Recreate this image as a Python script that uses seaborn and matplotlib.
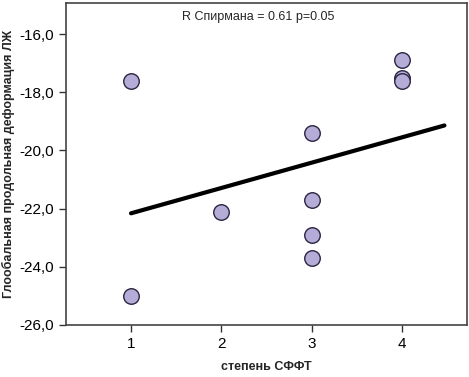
import matplotlib
matplotlib.use("Agg")
import matplotlib.pyplot as plt
import matplotlib.ticker as mticker
import seaborn as sns
import pandas as pd

# data
degree = [1, 1, 2, 3, 3, 3, 3, 4, 4, 4]
strain = [-17.6, -25.0, -22.1, -19.4, -21.7, -22.9, -23.7, -16.9, -17.5, -17.6]
fit_x = [1.0, 4.47]
fit_y = [-22.16, -19.14]
y_ticks = [-26, -24, -22, -20, -18, -16]
x_ticks = [1, 2, 3, 4]

df = pd.DataFrame({"degree": degree, "strain": strain})
fit = pd.DataFrame({"x": fit_x, "y": fit_y})

sns.set_style("white")
plt.rcParams["font.family"] = ["Liberation Sans", "DejaVu Sans"]

fig = plt.figure(figsize=(4.69, 3.77), dpi=100)
ax = fig.add_axes([66 / 469, 52 / 377, 401 / 469, 322 / 377])

sns.lineplot(data=fit, x="x", y="y", ax=ax, color="black", linewidth=3, zorder=2)
sns.scatterplot(data=df, x="degree", y="strain", ax=ax, s=125, color="#b5acd8",
                edgecolor="#2b2540", linewidth=1.0, zorder=3)

ax.set_xlim(0.28, 4.72)
ax.set_ylim(-26, -14.93)
ax.set_xticks(x_ticks)
ax.set_yticks(y_ticks)
ax.yaxis.set_major_formatter(mticker.FuncFormatter(lambda v, p: f"{v:.1f}".replace(".", ",")))
ax.tick_params(axis="both", direction="out", length=5, width=1, colors="#333333",
               labelsize=11, labelcolor="black", bottom=True, left=True)

for sp in ax.spines.values():
    sp.set_color("#444444")
    sp.set_linewidth(1.2)

ax.set_xlabel("степень СФФТ", fontsize=9, fontweight="bold", labelpad=7)
ax.set_ylabel("Глообальная продольная деформация ЛЖ", fontsize=9, fontweight="bold", labelpad=3)

ax.text(0.48, 0.955, "R Спирмана = 0.61 p=0.05", transform=ax.transAxes,
        ha="center", va="center", fontsize=9)

fig.savefig("out.png", dpi=100)
